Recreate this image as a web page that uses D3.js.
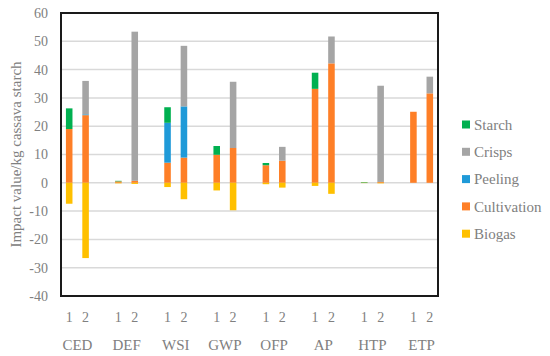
<!DOCTYPE html>
<html>
<head>
<meta charset="utf-8">
<script src="https://cdn.jsdelivr.net/npm/d3@7"></script>
<style>
  body { margin: 0; background: #fff; }
</style>
</head>
<body>
<svg id="chart"></svg>
<script>
var categories = ["CED", "DEF", "WSI", "GWP", "OFP", "AP", "HTP", "ETP"]
var scenarios = ["1", "2"]
var yTicks = [-40, -30, -20, -10, 0, 10, 20, 30, 40, 50, 60]

// values per bar: CED1, CED2, DEF1, DEF2, ... ETP1, ETP2
var starch      = [7.3, 0, 0.2, 0, 5.5, 0, 3.1, 0, 0.8, 0, 5.7, 0, 0.2, 0, 0, 0]
var crisps      = [0, 11.8, 0, 52.7, 0, 21.4, 0, 23.4, 0, 4.9, 0, 9.5, 0, 34.0, 0, 5.9]
var peeling     = [0, 0.3, 0, 0, 14.1, 18.1, 0, 0, 0, 0, 0, 0, 0, 0, 0, 0]
var cultivation = [19.0, 23.9, 0.5, 0.7, 7.1, 8.9, 9.9, 12.3, 6.2, 7.8, 33.2, 42.2, 0.05, 0.3, 25.1, 31.6]
var biogas      = [-7.4, -26.6, -0.2, -0.4, -1.5, -5.8, -2.7, -9.7, -0.5, -1.7, -1.1, -3.9, -0.1, -0.2, 0, 0]

var seriesNames = ["Cultivation", "Peeling", "Crisps", "Starch", "Biogas"]
var seriesVals = {Cultivation: cultivation, Peeling: peeling, Crisps: crisps, Starch: starch, Biogas: biogas}
var colors = {Starch: "#00b050", Crisps: "#a5a5a5", Peeling: "#1f9ad8", Cultivation: "#fe7f27", Biogas: "#ffc000"}
var legendOrder = ["Starch", "Crisps", "Peeling", "Cultivation", "Biogas"]

var width = 550, height = 356
var margin = {left: 61, top: 13, right: 112, bottom: 60}
var font = "'Liberation Serif', 'DejaVu Serif', 'Times New Roman', serif"
var textColor = "#808080"

var svg = d3.select("#chart")
    .attr("width", width)
    .attr("height", height)
    .attr("font-family", font)

// bar rows
var rows = []
categories.forEach(function (c, i) {
    scenarios.forEach(function (s, j) {
        var r = {key: c + "-" + s, cat: c, scen: s}
        seriesNames.forEach(function (n) { r[n] = seriesVals[n][i * 2 + j] })
        rows.push(r)
    })
})

// slots: 1, 2, gap ... (no gap after last)
var slots = []
categories.forEach(function (c, i) {
    slots.push(c + "-1", c + "-2")
    if (i < categories.length - 1) slots.push(c + "-gap")
})

var x = d3.scaleBand()
    .domain(slots)
    .range([margin.left, width - margin.right])
    .padding(0)

var y = d3.scaleLinear()
    .domain([-40, 60])
    .range([height - margin.bottom, margin.top])

// gridlines
svg.append("g")
    .selectAll("line")
    .data(yTicks.filter(function (t) { return t != -40 && t != 60 }))
    .enter()
    .append("line")
        .attr("x1", margin.left)
        .attr("x2", width - margin.right)
        .attr("y1", function (d) { return y(d) })
        .attr("y2", function (d) { return y(d) })
        .attr("stroke", "#d9d9d9")
        .attr("stroke-width", 1.5)

var stack = d3.stack()
    .keys(seriesNames)
    .offset(d3.stackOffsetDiverging)

var stacked = stack(rows)
var barW = x.bandwidth() * 0.4

svg.append("g")
    .selectAll("g")
    .data(stacked)
    .enter()
    .append("g")
        .attr("fill", function (d) { return colors[d.key] })
    .selectAll("rect")
    .data(function (d) { return d })
    .enter()
    .append("rect")
        .attr("x", function (d) { return x(d.data.key) + (x.bandwidth() - barW) / 2 })
        .attr("width", barW)
        .attr("y", function (d) { return y(Math.max(d[0], d[1])) })
        .attr("height", function (d) { return Math.abs(y(d[0]) - y(d[1])) })

// frame
svg.append("rect")
    .attr("x", margin.left)
    .attr("y", margin.top)
    .attr("width", width - margin.right - margin.left)
    .attr("height", height - margin.bottom - margin.top)
    .attr("fill", "none")
    .attr("stroke", "#1a1a1a")
    .attr("stroke-width", 2)

// y tick labels
svg.append("g")
    .selectAll("text")
    .data(yTicks)
    .enter()
    .append("text")
        .attr("x", 48)
        .attr("y", function (d) { return y(d) })
        .attr("dy", "0.35em")
        .attr("text-anchor", "end")
        .attr("fill", textColor)
        .style("font-size", "14px")
        .text(function (d) { return d })

// scenario labels
svg.append("g")
    .selectAll("text")
    .data(rows)
    .enter()
    .append("text")
        .attr("x", function (d) { return x(d.key) + x.bandwidth() / 2 })
        .attr("y", 322)
        .attr("text-anchor", "middle")
        .attr("fill", textColor)
        .style("font-size", "14px")
        .text(function (d) { return d.scen })

// category labels
svg.append("g")
    .selectAll("text")
    .data(categories)
    .enter()
    .append("text")
        .attr("x", function (d) { return (x(d + "-1") + x(d + "-2") + x.bandwidth()) / 2 })
        .attr("y", 350)
        .attr("text-anchor", "middle")
        .attr("fill", textColor)
        .style("font-size", "15px")
        .text(function (d) { return d })

// y axis title
svg.append("text")
    .attr("transform", "translate(21," + ((margin.top + height - margin.bottom) / 2) + ") rotate(-90)")
    .attr("text-anchor", "middle")
    .attr("fill", textColor)
    .style("font-size", "15px")
    .text("Impact value/kg cassava starch")

// legend
var legend = svg.append("g")
    .selectAll("g")
    .data(legendOrder)
    .enter()
    .append("g")
        .attr("transform", function (d, i) { return "translate(462," + (124.5 + i * 27.3) + ")" })
legend.append("rect")
    .attr("x", 0)
    .attr("y", -4)
    .attr("width", 8)
    .attr("height", 8)
    .attr("fill", function (d) { return colors[d] })
legend.append("text")
    .attr("x", 12)
    .attr("dy", "0.35em")
    .attr("fill", textColor)
    .style("font-size", "15px")
    .text(function (d) { return d })
</script>
</body>
</html>
